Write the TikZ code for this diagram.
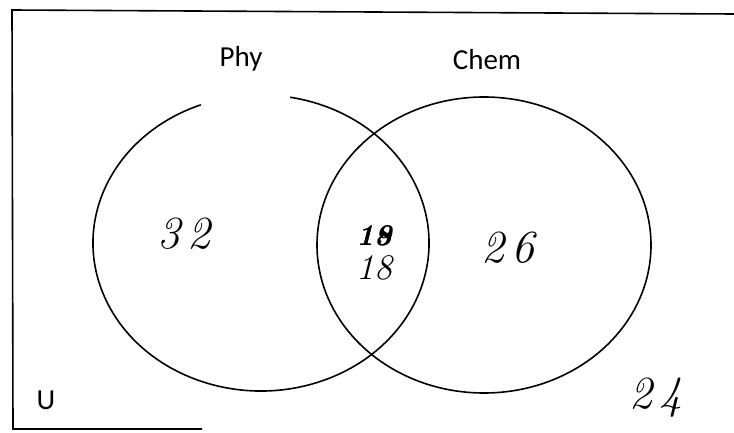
\documentclass[tikz,border=0pt]{standalone}
\usepackage{fontspec}
\setsansfont{Carlito}
\begin{document}
\begin{tikzpicture}[x=1pt,y=1pt,
  ln/.style={line width=1.6pt,black},
  setlabel/.style={font=\sffamily\fontsize{29}{29}\selectfont,inner sep=0pt},
  hand/.style={font=\itshape\fontsize{46}{46}\selectfont,inner sep=0pt},
  handsmall/.style={font=\itshape\bfseries\fontsize{30}{30}\selectfont,inner sep=0pt}]
\useasboundingbox (0,0) rectangle (734,432);
% frame
\coordinate (fTR) at (734,418);
\coordinate (fTL) at (12,422);
\coordinate (fBL) at (13,3);
\coordinate (fBR) at (202,3);
\draw[ln] (fTR) -- (fTL) -- (fBL) -- (fBR);
% centres
\coordinate (P) at (261,189);
\coordinate (C) at (484,187);
% Phy set (gap at top)
\draw[ln] (P) ++(111:168 and 148) arc[start angle=111,end angle=440,x radius=168,y radius=148];
% Chem set
\draw[ln] (C) ellipse[x radius=167,y radius=148];
% labels
\node[setlabel] (phy) at (241,373) {Phy};
\node[setlabel] (chem) at (487,372) {Chem};
\node[setlabel] (u) at (46,32) {U};
% numbers
\node[hand] (n32) at (184,198) {3\,2};
\node[handsmall] (n19) at (374,196) {19};
\node[handsmall] (n19b) at (374,196) {18};
\node[hand,font=\itshape\fontsize{36}{36}\selectfont] (n18) at (374,164) {18};
\node[hand] (n26) at (508,184) {2\,6};
\node[hand] (n24) at (656,34) {2\,4};
\end{tikzpicture}
\end{document}
